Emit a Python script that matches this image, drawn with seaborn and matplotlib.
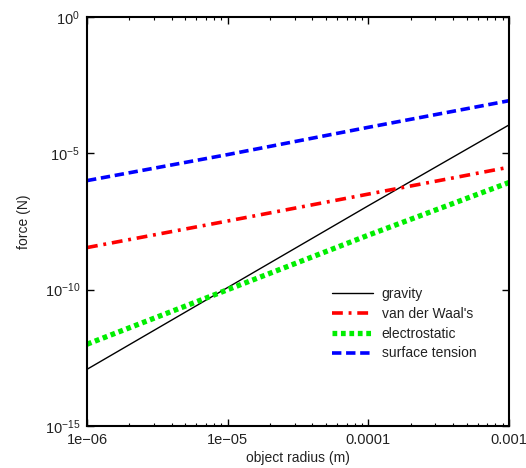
import matplotlib
matplotlib.use("Agg")
import matplotlib.pyplot as plt
import matplotlib.ticker as mticker
import pandas as pd
import seaborn as sns

# values (log-log, straight lines)
radius = [1e-6, 1e-5, 1e-4, 1e-3]
gravity = [1.2e-13, 1.2e-10, 1.2e-7, 1.1e-4]
van_der_waals = [3.5e-9, 3.3e-8, 3.2e-7, 3.1e-6]
electrostatic = [1.0e-12, 1.0e-10, 1.0e-8, 8.5e-7]
surface_tension = [1.0e-6, 9.0e-6, 9.0e-5, 8.5e-4]

series = [
    ("gravity", gravity, "black", "-", 1.0),
    ("van der Waal's", van_der_waals, "#ff0000", (0, (3.0, 1.6, 0.8, 1.6)), 2.6),
    ("electrostatic", electrostatic, "#00ee00", (0, (0.9, 0.7)), 3.8),
    ("surface tension", surface_tension, "#0000ff", (0, (2.6, 1.3)), 2.6),
]

sns.set_theme(style="ticks")
plt.rcParams["font.family"] = ["Liberation Sans", "DejaVu Sans"]
plt.rcParams["mathtext.fontset"] = "custom"
plt.rcParams["mathtext.rm"] = "Liberation Sans"
plt.rcParams["mathtext.it"] = "Liberation Sans:italic"
plt.rcParams["mathtext.bf"] = "Liberation Sans:bold"

fig = plt.figure(figsize=(5.26, 4.68), dpi=100)
ax = fig.add_axes([0.1654, 0.0897, 0.8023, 0.874])

for name, vals, color, ls, lw in series:
    df = pd.DataFrame({"r": radius, "f": vals})
    sns.lineplot(data=df, x="r", y="f", ax=ax, color=color, linestyle=ls,
                 linewidth=lw, label=name)

ax.set_xscale("log")
ax.set_yscale("log")
ax.set_xlim(1e-6, 1e-3)
ax.set_ylim(1e-15, 1e0)

ax.set_xticks([1e-6, 1e-5, 1e-4, 1e-3])
ax.set_xticklabels(["1e\u221206", "1e\u221205", "0.0001", "0.001"])
ax.xaxis.set_minor_locator(mticker.LogLocator(base=10, subs=range(2, 10)))
ax.xaxis.set_minor_formatter(mticker.NullFormatter())
ax.set_yticks([1e-15, 1e-10, 1e-5, 1e0])
ax.set_yticklabels([r"$\mathregular{10^{-15}}$", r"$\mathregular{10^{-10}}$",
                    r"$\mathregular{10^{-5}}$", r"$\mathregular{10^{0}}$"])
ax.yaxis.set_minor_locator(mticker.NullLocator())

ax.tick_params(which="both", direction="in", top=True, right=True,
               labelsize=10.5, colors="black", labelcolor="#222222", pad=5)
ax.tick_params(which="major", length=5, width=1)
ax.tick_params(which="minor", length=2.5, width=0.8)
for s in ax.spines.values():
    s.set_linewidth(1.5)
    s.set_color("black")

ax.set_xlabel("object radius (m)", fontsize=10, labelpad=3, color="#222222")
ax.set_ylabel("force (N)", fontsize=10, labelpad=10, color="#222222")

leg = ax.legend(loc="upper left", bbox_to_anchor=(0.58, 0.34), frameon=False,
                fontsize=10, handlelength=3.0, handletextpad=0.6,
                labelspacing=0.42, borderpad=0, borderaxespad=0)
for t in leg.get_texts():
    t.set_color("#222222")

plt.savefig("out.png", dpi=100)
plt.close()
